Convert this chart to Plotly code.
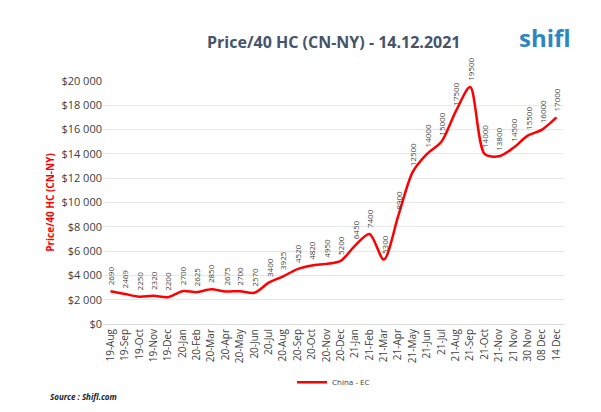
import plotly.graph_objects as go

months = ["19-Aug", "19-Sep", "19-Oct", "19-Nov", "19-Dec",
          "20-Jan", "20-Feb", "20-Mar", "20-Apr", "20-May", "20-Jun", "20-Jul",
          "20-Aug", "20-Sep", "20-Oct", "20-Nov", "20-Dec",
          "21-Jan", "21-Feb", "21-Mar", "21-Apr", "21-May", "21-Jun", "21-Jul",
          "21-Aug", "21-Sep", "21-Oct", "21-Nov", "21 Nov", "30 Nov", "08 Dec", "14 Dec"]
prices = [2690, 2469, 2250, 2320, 2200, 2700, 2625, 2850, 2675, 2700, 2570, 3400,
          3925, 4520, 4820, 4950, 5200, 6450, 7400, 5300, 8900, 12500, 14000, 15000,
          17500, 19500, 14000, 13800, 14500, 15500, 16000, 17000]
tick_vals = list(range(0, 20001, 2000))
tick_text = ["$0"] + ["${:,}".format(v).replace(",", " ") for v in tick_vals[1:]]

fig = go.Figure(go.Scatter(
    x=months, y=prices, mode="lines", name="China - EC",
    line=dict(color="#ff0000", width=2.5, shape="spline", smoothing=0.8),
))

for m, p in zip(months, prices):
    fig.add_annotation(x=m, y=p, text=str(p), textangle=-90, showarrow=False,
                       yanchor="bottom", yshift=4,
                       font=dict(size=8, color="#404040"))

fig.add_annotation(xref="paper", yref="paper", x=0.5, y=1.16, yanchor="middle",
                   showarrow=False, text="<b>Price/40 HC (CN-NY) - 14.12.2021</b>",
                   font=dict(size=16, color="#44546a"))
fig.add_annotation(xref="paper", yref="paper", x=1.02, y=1.18, yanchor="middle",
                   showarrow=False, text="<b>shifl</b>", xanchor="right",
                   font=dict(size=24, color="#2e86c1"))
fig.add_annotation(xref="paper", yref="paper", x=-0.12, y=-0.33, showarrow=False,
                   xanchor="left", text="<b><i>Source : Shifl.com</i></b>",
                   font=dict(size=8, color="#222222"))

fig.update_layout(
    width=601, height=412,
    margin=dict(l=95, r=45, t=73, b=96),
    plot_bgcolor="white", paper_bgcolor="white",
    font=dict(family="Open Sans, sans-serif"),
    showlegend=True,
    legend=dict(orientation="h", x=0.5, xanchor="center", y=-0.24, yanchor="middle",
                font=dict(size=8, color="#404040")),
    xaxis=dict(tickangle=-90, tickfont=dict(size=10, color="#404040"), showgrid=False,
               showline=True, linecolor="#d9d9d9", automargin=False),
    yaxis=dict(range=[0, 20000], tickvals=tick_vals, ticktext=tick_text,
               tickfont=dict(size=11, color="#404040"), gridcolor="#e8e8e8",
               zeroline=False, automargin=False,
               title=dict(text="<b>Price/40 HC (CN-NY)</b>",
                          font=dict(size=10, color="#ff0000"), standoff=4)),
)

fig.write_html("out.html")
